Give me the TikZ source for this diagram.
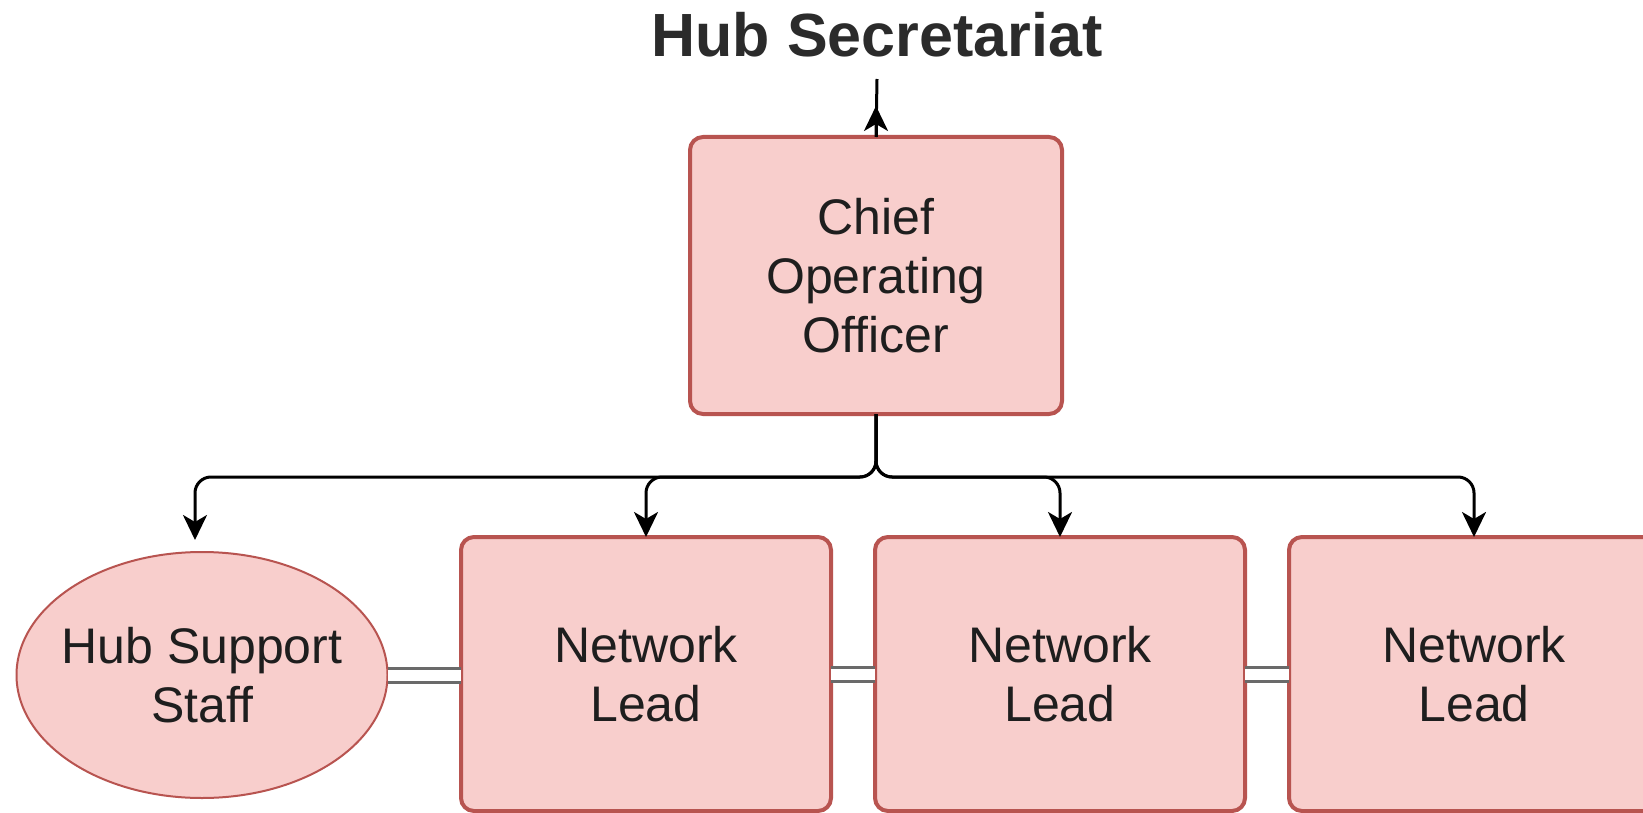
\documentclass[tikz,border=0pt]{standalone}
\usepackage{fontspec}
\setmainfont{Liberation Sans}
\usetikzlibrary{arrows.meta,shapes.geometric}
\definecolor{boxfill}{HTML}{F8CECC}
\definecolor{boxdraw}{HTML}{B85450}
\definecolor{txt}{HTML}{1E1E1E}
\definecolor{ttl}{HTML}{2B2B2B}
\definecolor{dbl}{HTML}{6A6A6A}
\begin{document}
\begin{tikzpicture}[x=0.5pt,y=-0.5pt,
  rolebox/.style={draw=boxdraw,fill=boxfill,line width=2pt,rounded corners=6.5pt,
    inner sep=0pt,outer sep=0pt,align=center,text=txt,font=\fontsize{25}{29.5}\selectfont},
  roleoval/.style={ellipse,draw=boxdraw,fill=boxfill,line width=1pt,
    inner sep=0pt,outer sep=0pt},
  ovaltext/.style={align=center,text=txt,font=\fontsize{25}{29.5}\selectfont,inner sep=0pt},
  conn/.style={draw=black,line width=1.5pt,rounded corners=8pt},
  tip/.style={-{Stealth[length=12.5pt,width=12pt,inset=3.5pt]}},
  peer/.style={draw=dbl,line width=1.5pt,double=white,double distance=5.5pt}
]
\clip (0,0) rectangle (1643,813);
\fill[white] (0,0) rectangle (1643,813);

\node[anchor=base,font=\bfseries\fontsize{30.5}{36}\selectfont,text=ttl] (title) at (877,57) {Hub Secretariat};

\node[rolebox,minimum width=186pt,minimum height=138.5pt] (coo) at (876,275.5)
  {Chief\\Operating\\Officer};

\node[roleoval,minimum width=185.5pt,minimum height=123pt,
  label={[ovaltext]center:Hub Support\\Staff}] (hss) at (202,675) {};
\node[rolebox,minimum width=185pt,minimum height=137pt] (nl1) at (646,674) {Network\\Lead};
\node[rolebox,minimum width=185pt,minimum height=137pt] (nl2) at (1060,674) {Network\\Lead};
\node[rolebox,minimum width=185pt,minimum height=137pt] (nl3) at (1474,674) {Network\\Lead};

% arrow up to secretariat
\coordinate (sec) at (877,79);
\draw[conn] (coo.north) -- (sec);
\draw[conn,tip] (coo.north) -- ++(0,-31);

% branches
\coordinate (split) at (876,477);
\coordinate (hsstop) at (195,540);
\draw[conn,tip] (coo.south) -- (split) -- (hsstop |- split) -- (hsstop);
\draw[conn,tip] (coo.south) -- (split) -| (nl1.north);
\draw[conn,tip] (coo.south) -- (split) -| (nl2.north);
\draw[conn,tip] (coo.south) -- (split) -| (nl3.north);

% peer links
\draw[peer] (hss.east) -- (hss.east -| nl1.west);
\draw[peer] (nl1.east) -- (nl2.west);
\draw[peer] (nl2.east) -- (nl3.west);
\end{tikzpicture}
\end{document}
